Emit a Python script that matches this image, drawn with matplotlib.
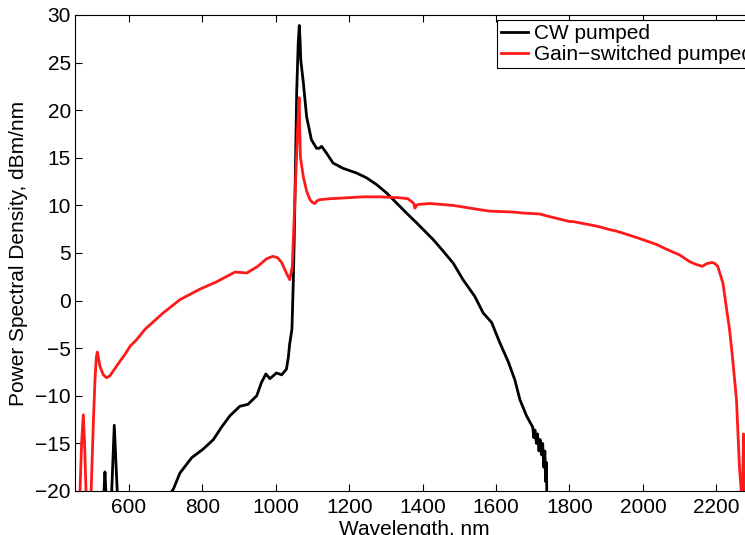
#!/usr/bin/env python3

import numpy as np
import matplotlib
matplotlib.use("Agg")
import matplotlib.pyplot as plt

# espectro con bombeo CW (nm, dBm/nm); -30 = fuera de escala
cw_nm = [520, 532, 534.6, 537, 545, 553, 560, 568, 580, 705,
         717, 721, 739, 771, 802, 830, 852, 875, 902, 924,
         948, 961, 973, 984, 1002, 1016, 1029, 1034, 1038, 1044,
         1048, 1051, 1054, 1057, 1061, 1064, 1066, 1068, 1070, 1075,
         1084, 1097, 1111, 1118, 1125, 1138, 1156, 1183, 1220, 1247,
         1274, 1302, 1329, 1356, 1384, 1429, 1447, 1483,
         1510, 1542, 1565, 1588, 1610, 1633, 1651, 1665, 1683, 1700,
         1703, 1706, 1710, 1713, 1717, 1720, 1724, 1727, 1730, 1733,
         1735, 1737, 1739, 1745]
cw_db = [-30, -20, -18.0, -20, -30, -20, -13.1, -20, -30, -30,
         -20, -19.8, -18.1, -16.5, -15.6, -14.6, -13.3, -12.1, -11.1, -10.9,
         -10.0, -8.6, -7.7, -8.2, -7.6, -7.8, -7.2, -6.0, -4.5, -3.0,
         2.5, 8.0, 15.0, 22.0, 27.0, 28.9, 27.5, 25.3, 24.6, 22.9,
         19.3, 16.9, 16.0, 16.0, 16.2, 15.5, 14.45, 13.9, 13.4, 12.9,
         12.2, 11.3, 10.25, 9.2, 8.15, 6.4, 5.6, 3.95,
         2.2, 0.45, -1.3, -2.3, -4.4, -6.4, -8.3, -10.4, -12.1, -13.3,
         -14.4, -13.6, -15.0, -14.0, -15.8, -14.6, -16.2, -15.0, -17.5, -15.8,
         -19.0, -17.0, -22.0, -30]

# espectro con bombeo gain-switched
gs_nm = [460, 466.6, 471, 475.6, 479, 483, 490, 497, 503, 507.5,
         511, 514, 521, 530, 539, 548, 557, 575, 590, 603,
         621, 644, 693, 739, 793, 840, 889, 921, 951, 975,
         992, 1005, 1016, 1030, 1038, 1045, 1052, 1059, 1063.5, 1067,
         1075, 1084, 1093, 1100, 1106, 1113, 1120, 1147, 1193, 1238,
         1284, 1338, 1360, 1370, 1376, 1379, 1383, 1388, 1420, 1483,
         1556, 1583, 1647, 1673, 1719, 1738, 1801, 1810, 1864, 1882,
         1910, 1928, 1973, 2000, 2037, 2064, 2100, 2127, 2145, 2162,
         2175, 2189, 2196, 2204, 2218, 2227, 2236, 2244, 2255, 2259,
         2263, 2268, 2271, 2274, 2277, 2282]
gs_db = [-30, -20, -15, -12.0, -15, -20, -30, -20, -12.8, -8.3,
         -6.0, -5.4, -6.9, -7.8, -8.1, -7.9, -7.4, -6.4, -5.6, -4.8,
         -4.1, -3.0, -1.3, 0.1, 1.2, 2.0, 3.0, 2.9, 3.6, 4.4,
         4.65, 4.5, 4.0, 2.8, 2.2, 3.6, 10.6, 17.6, 21.3, 15.1,
         13.0, 11.5, 10.6, 10.3, 10.2, 10.5, 10.6, 10.7, 10.8, 10.9,
         10.9, 10.8, 10.7, 10.4, 10.2, 9.7, 10.0, 10.1, 10.2, 10.0,
         9.55, 9.4, 9.3, 9.2, 9.1, 8.9, 8.3, 8.3, 7.9, 7.75,
         7.45, 7.3, 6.75, 6.4, 5.9, 5.4, 4.8, 4.1, 3.8, 3.6,
         3.9, 4.0, 3.9, 3.6, 1.85, -0.6, -3.0, -5.9, -10.4, -13.9,
         -17.4, -20, -22, -14, -17, -30]

X_TICKS = [600, 800, 1000, 1200, 1400, 1600, 1800, 2000, 2200]
Y_TICKS = [-20, -15, -10, -5, 0, 5, 10, 15, 20, 25, 30]


def main():
    plt.rcParams["font.family"] = ["Liberation Sans", "DejaVu Sans"]
    plt.rcParams["font.size"] = 15

    fig = plt.figure(figsize=(7.45, 5.35), dpi=100)
    # los ejes siguen a la derecha de la figura (recortados como el original)
    ax = fig.add_axes([75 / 745, 44 / 535, 678 / 745, 476 / 535])

    ax.plot(np.array(cw_nm), np.array(cw_db), color="black", lw=2,
            label="CW pumped")
    ax.plot(np.array(gs_nm), np.array(gs_db), color="#ff1a1a", lw=2,
            label="Gain\u2212switched pumped")

    ax.set_xlim(453, 2300)
    ax.set_ylim(-20, 30)
    ax.set_xticks(X_TICKS)
    ax.set_yticks(Y_TICKS)
    ax.tick_params(direction="in", length=5, width=0.8, top=True, right=True)
    ax.tick_params(axis="x", pad=5)
    ax.tick_params(axis="y", pad=3)
    for s in ax.spines.values():
        s.set_linewidth(0.8)

    ax.set_xlabel("Wavelength, nm", labelpad=2)
    ax.set_ylabel("Power Spectral Density, dBm/nm", labelpad=5)

    leg = ax.legend(loc="upper left", bbox_to_anchor=(0.622, 0.99),
                    borderaxespad=0, fancybox=False, framealpha=1,
                    edgecolor="black", handlelength=1.3, handletextpad=0.3,
                    labelspacing=0.1, borderpad=0.2)
    leg.get_frame().set_linewidth(0.8)

    fig.savefig("out.png", dpi=100)
    plt.close(fig)


if __name__ == "__main__":
    main()
